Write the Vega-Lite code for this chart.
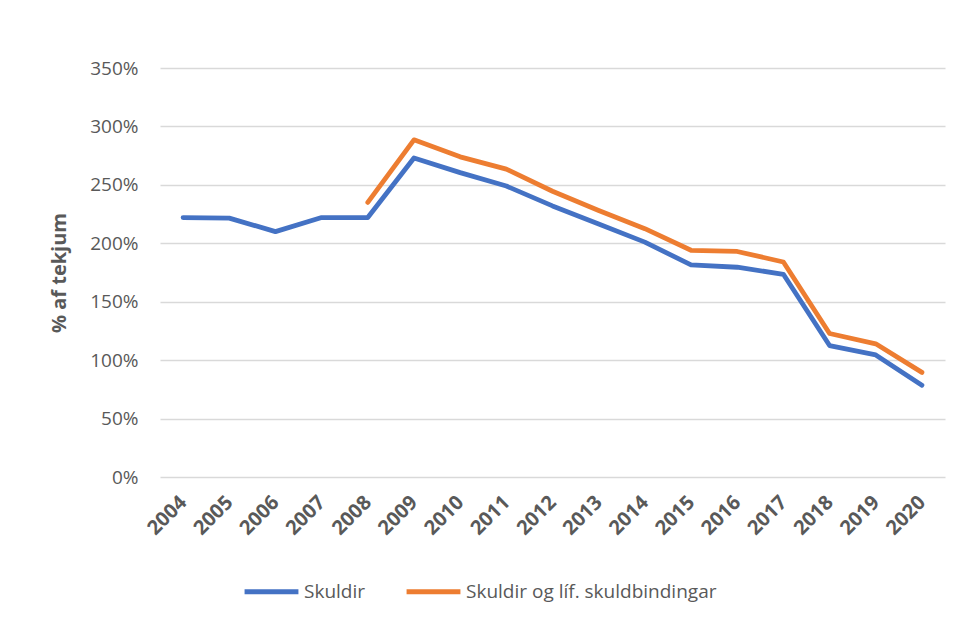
{
  "$schema": "https://vega.github.io/schema/vega-lite/v6.json",
  "width": 785,
  "height": 409,
  "autosize": {"type": "none"},
  "padding": {"left": 160, "top": 68, "right": 16, "bottom": 144},
  "background": "white",
  "config": {
    "view": {"stroke": null},
    "font": "Open Sans"
  },
  "data": {
    "values": [
      {"year": "2004", "series": "Skuldir", "value": 2.22},
      {"year": "2005", "series": "Skuldir", "value": 2.215},
      {"year": "2006", "series": "Skuldir", "value": 2.10},
      {"year": "2007", "series": "Skuldir", "value": 2.22},
      {"year": "2008", "series": "Skuldir", "value": 2.22},
      {"year": "2009", "series": "Skuldir", "value": 2.73},
      {"year": "2010", "series": "Skuldir", "value": 2.605},
      {"year": "2011", "series": "Skuldir", "value": 2.49},
      {"year": "2012", "series": "Skuldir", "value": 2.32},
      {"year": "2013", "series": "Skuldir", "value": 2.165},
      {"year": "2014", "series": "Skuldir", "value": 2.01},
      {"year": "2015", "series": "Skuldir", "value": 1.815},
      {"year": "2016", "series": "Skuldir", "value": 1.795},
      {"year": "2017", "series": "Skuldir", "value": 1.735},
      {"year": "2018", "series": "Skuldir", "value": 1.125},
      {"year": "2019", "series": "Skuldir", "value": 1.045},
      {"year": "2020", "series": "Skuldir", "value": 0.785},
      {"year": "2008", "series": "Skuldir og líf. skuldbindingar", "value": 2.35},
      {"year": "2009", "series": "Skuldir og líf. skuldbindingar", "value": 2.885},
      {"year": "2010", "series": "Skuldir og líf. skuldbindingar", "value": 2.74},
      {"year": "2011", "series": "Skuldir og líf. skuldbindingar", "value": 2.635},
      {"year": "2012", "series": "Skuldir og líf. skuldbindingar", "value": 2.445},
      {"year": "2013", "series": "Skuldir og líf. skuldbindingar", "value": 2.28},
      {"year": "2014", "series": "Skuldir og líf. skuldbindingar", "value": 2.125},
      {"year": "2015", "series": "Skuldir og líf. skuldbindingar", "value": 1.94},
      {"year": "2016", "series": "Skuldir og líf. skuldbindingar", "value": 1.93},
      {"year": "2017", "series": "Skuldir og líf. skuldbindingar", "value": 1.84},
      {"year": "2018", "series": "Skuldir og líf. skuldbindingar", "value": 1.228},
      {"year": "2019", "series": "Skuldir og líf. skuldbindingar", "value": 1.14},
      {"year": "2020", "series": "Skuldir og líf. skuldbindingar", "value": 0.895}
    ]
  },
  "mark": {"type": "line", "strokeWidth": 4.8, "strokeCap": "round", "strokeJoin": "round"},
  "encoding": {
    "x": {
      "field": "year",
      "type": "ordinal",
      "scale": {"type": "point", "padding": 0.5},
      "axis": {
        "title": null,
        "labelAngle": -45,
        "labelFontSize": 20,
        "labelFontWeight": "bold",
        "labelColor": "#595959",
        "labelAlign": "right",
        "labelBaseline": "middle",
        "labelPadding": 22,
        "ticks": false,
        "domain": false,
        "grid": false
      }
    },
    "y": {
      "field": "value",
      "type": "quantitative",
      "scale": {"domain": [0, 3.5], "nice": false},
      "axis": {
        "title": "% af tekjum",
        "titleFontSize": 20,
        "titleFontWeight": "bold",
        "titleColor": "#595959",
        "titlePadding": 20,
        "format": ".0%",
        "values": [0, 0.5, 1, 1.5, 2, 2.5, 3, 3.5],
        "labelFontSize": 19,
        "labelColor": "#595959",
        "labelPadding": 22,
        "ticks": false,
        "domain": false,
        "grid": true,
        "gridColor": "#d9d9d9",
        "gridWidth": 1.5
      }
    },
    "color": {
      "field": "series",
      "type": "nominal",
      "scale": {
        "domain": ["Skuldir", "Skuldir og líf. skuldbindingar"],
        "range": ["#4472C4", "#ED7D31"]
      },
      "legend": {
        "title": null,
        "orient": "none",
        "direction": "horizontal",
        "legendX": 82,
        "legendY": 494,
        "symbolType": "stroke",
        "symbolSize": 2900,
        "symbolStrokeWidth": 4.8,
        "labelFontSize": 19,
        "labelColor": "#595959",
        "labelOffset": 3,
        "columnPadding": 30,
        "labelLimit": 400
      }
    }
  }
}
